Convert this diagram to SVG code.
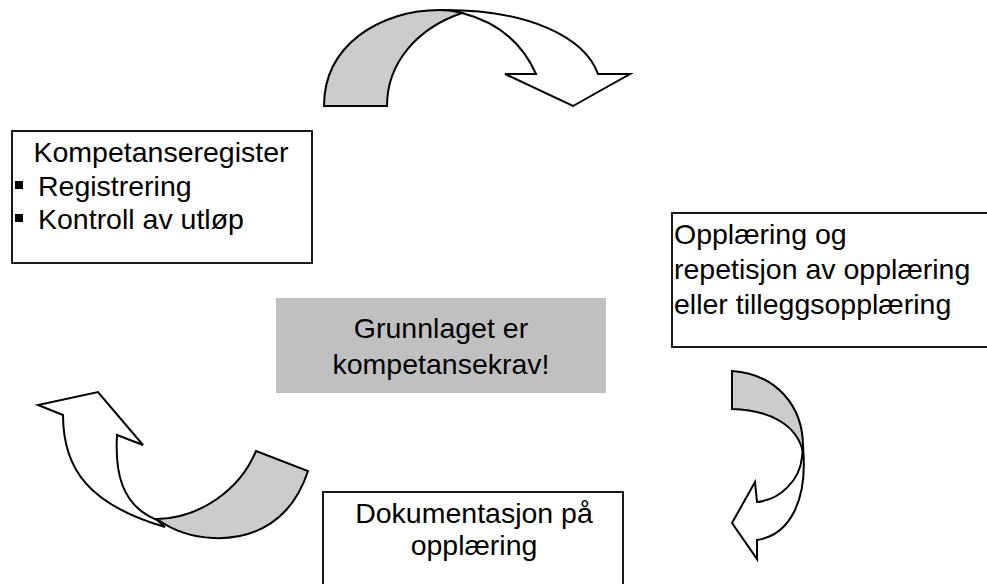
<svg xmlns="http://www.w3.org/2000/svg" width="987" height="584" viewBox="0 0 987 584">
<style>
.box{fill:#fff;stroke:#000;stroke-width:1.8}
.core{fill:#c0c0c0;stroke:none}
.t{font-family:"Liberation Sans",Arial,sans-serif;font-size:28.5px;fill:#000}
.m{text-anchor:middle}
.arw{stroke:#000;stroke-width:2;stroke-linejoin:miter}
.g{fill:#cccccc}
.w{fill:#fff}
</style>
<g id="connectors">
  <g id="arrow-top">
    <path class="arw w" d="M440,10 C530,9 585,38 598,74 L630,74 L573,106 L505,74 L536,74 C522,42 497,22 462,13 Z"/>
    <path class="arw g" d="M324,106 C324,45 380,10 440,10 C447,10 455,11 462,13 C418,28 387,62 387,106 Z"/>
  </g>
  <g id="arrow-right">
    <path class="arw w" d="M803,447 C808,500 790,535 757,540 L757,559 L732,523 L755,482 L757,502 C780,500 800,480 802,457 Z"/>
    <path class="arw g" d="M732,371 C775,374 805,405 803,452 C797,425 770,410 732,409 Z"/>
  </g>
  <g id="arrow-left">
    <path class="arw w" d="M157,520 C120,505 115,470 117,435 L143,445 L98,392 L38,405 L63,415 C63,470 90,505 165,527 Z"/>
    <path class="arw g" d="M256,451 L308,471 C292,520 255,540 213,538 C190,537 172,530 157,519 C200,518 240,490 256,451 Z"/>
  </g>
</g>
<g id="node-register">
  <rect class="box" x="12" y="131" width="300" height="132"/>
  <text class="t m" x="161" y="162">Kompetanseregister</text>
  <rect x="15" y="181" width="8" height="8" fill="#000"/>
  <text class="t" x="38" y="196">Registrering</text>
  <rect x="15" y="214" width="8" height="8" fill="#000"/>
  <text class="t" x="38" y="229">Kontroll av utløp</text>
</g>
<g id="node-training">
  <rect class="box" x="672" y="213" width="330" height="134"/>
  <text class="t" x="674" y="244">Opplæring og</text>
  <text class="t" x="674" y="279">repetisjon av opplæring</text>
  <text class="t" x="674" y="314">eller tilleggsopplæring</text>
</g>
<g id="node-core">
  <rect class="core" x="276" y="298" width="330" height="95"/>
  <text class="t m" x="441" y="338">Grunnlaget er</text>
  <text class="t m" x="441" y="374">kompetansekrav!</text>
</g>
<g id="node-doc">
  <rect class="box" x="323" y="492" width="300" height="110"/>
  <text class="t m" x="474" y="523">Dokumentasjon på</text>
  <text class="t m" x="474" y="555">opplæring</text>
</g>
</svg>
